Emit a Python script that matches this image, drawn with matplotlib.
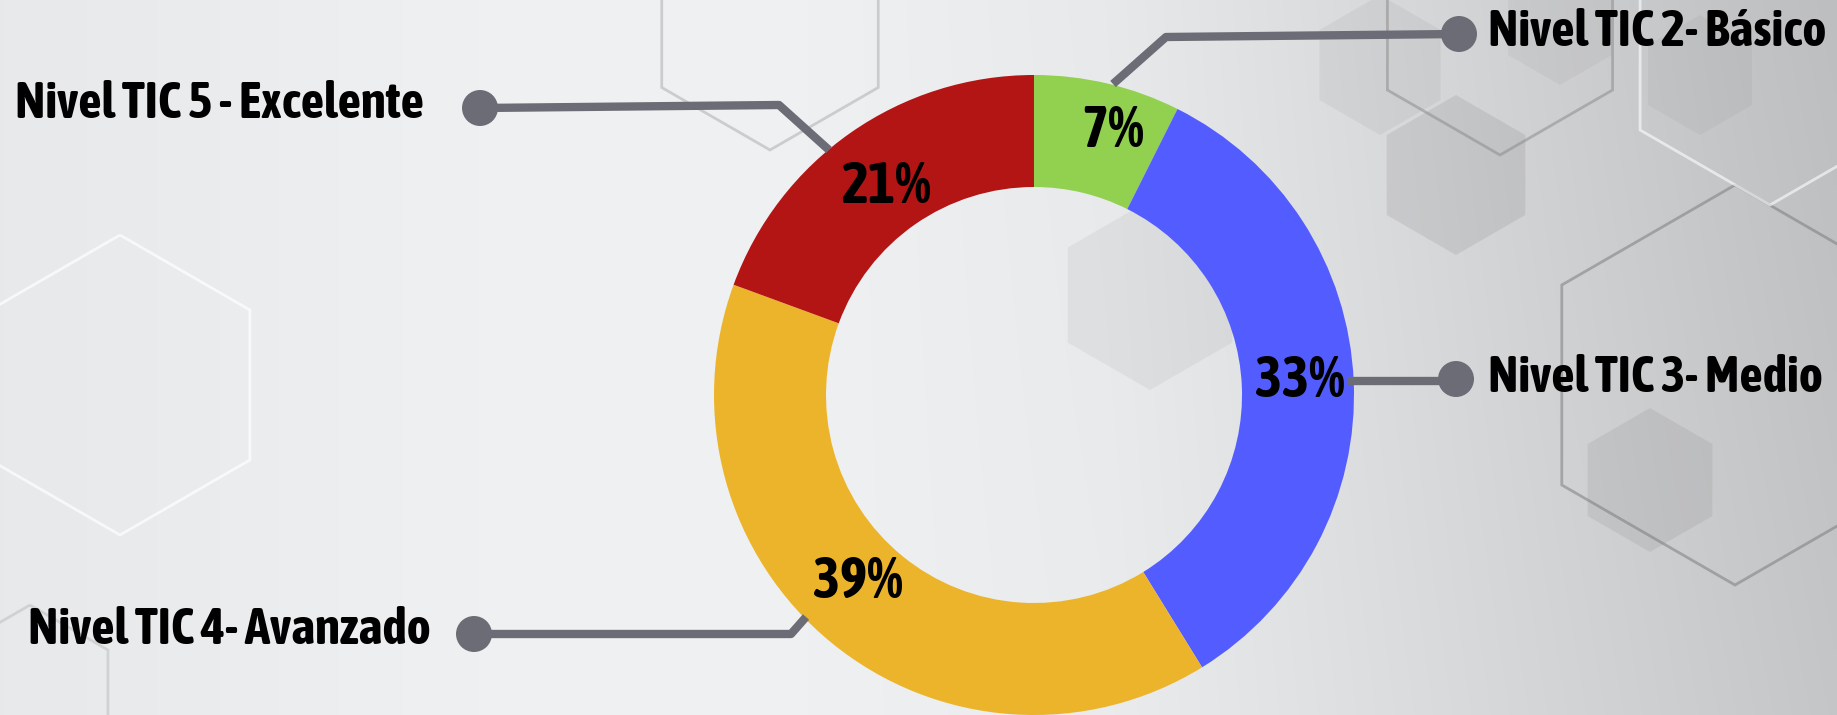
import matplotlib
matplotlib.use("Agg")
import matplotlib.pyplot as plt
import numpy as np
from matplotlib.patches import RegularPolygon, Circle

# data
niveles = ["Nivel TIC 2- Básico", "Nivel TIC 3- Medio",
           "Nivel TIC 4- Avanzado", "Nivel TIC 5 - Excelente"]
etiquetas = ["7%", "33%", "39%", "21%"]
# wedge shares as drawn in the picture (the printed labels are rounded differently)
sectores = [7.4, 33.8, 39.4, 19.4]
colores = ["#92d050", "#535dff", "#ecb42b", "#b31414"]

W, H = 1837, 715
GRIS = "#6c6c76"
FAMILIA = ["Asap Condensed", "Liberation Sans", "DejaVu Sans"]


def fondo(ax):
    # light grey gradient, darker on the right
    xs = np.linspace(0, 1, 400)
    ys = np.linspace(0, 1, 160)
    X, Y = np.meshgrid(xs, ys)
    v = 0.90 + 0.04 * np.exp(-((X - 0.35) ** 2) / 0.08) - 0.13 * np.clip((X - 0.6) / 0.4, 0, 1) ** 1.2
    v = v - 0.03 * np.clip((X - 0.45) / 0.5, 0, 1) * Y
    img = np.dstack([v, v + 0.005, v + 0.012])
    ax.imshow(np.clip(img, 0, 1), extent=(0, W, 0, H), origin="lower",
              aspect="auto", zorder=0, interpolation="bilinear")

    # decorative hexagons
    rellenos = [(1456, 540, 80, 0.12), (1650, 235, 72, 0.10), (1150, 420, 95, 0.07),
                (1380, 650, 70, 0.07), (1700, 640, 60, 0.06), (1560, 690, 60, 0.06)]
    for x, y, r, a in rellenos:
        ax.add_patch(RegularPolygon((x, y), 6, radius=r, orientation=0,
                                    facecolor="#555555", alpha=a, edgecolor="none", zorder=1))
    contornos = [(1735, 330, 200, "#777777", 0.5), (1500, 690, 130, "#888888", 0.5),
                 (120, 330, 150, "#ffffff", 0.7), (770, 690, 125, "#aaaaaa", 0.5),
                 (1770, 660, 150, "#ffffff", 0.6), (30, 20, 90, "#bbbbbb", 0.5)]
    for x, y, r, c, a in contornos:
        ax.add_patch(RegularPolygon((x, y), 6, radius=r, orientation=0,
                                    facecolor="none", edgecolor=c, alpha=a, lw=2, zorder=1))


def main():
    fig = plt.figure(figsize=(W / 100, H / 100), dpi=100)
    ax = fig.add_axes([0, 0, 1, 1])
    fondo(ax)

    cx, cy, R = 1034, H - 395, 320
    wedges, _ = ax.pie(
        sectores, colors=colores, startangle=90, counterclock=False,
        center=(cx, cy), radius=R, wedgeprops=dict(width=112, linewidth=0))
    for w in wedges:
        w.set_zorder(3)

    # percent labels, placed where the picture has them (pixel coords from top)
    pos_pct = [(1113, 131), (1300, 381), (858, 582), (886, 187)]
    for txt, (x, y) in zip(etiquetas, pos_pct):
        ax.text(x, H - y, txt, ha="center", va="center", fontsize=41.5,
                fontweight="bold", color="black", family=FAMILIA, zorder=5)

    # leader lines (pixel coords, y from top)
    lineas = [
        [(1113, 84), (1166, 37), (1459, 34)],
        [(1347, 381), (1456, 381)],
        [(806, 617), (791, 634), (474, 634)],
        [(829, 150), (779, 105), (480, 108)],
    ]
    puntos = [(1459, 34), (1456, 379), (474, 634), (480, 108)]
    for pts in lineas:
        xs = [p[0] for p in pts]
        ys = [H - p[1] for p in pts]
        ax.plot(xs, ys, color=GRIS, lw=6, solid_capstyle="butt", zorder=4)
    for x, y in puntos:
        ax.add_patch(Circle((x, H - y), 18, facecolor=GRIS, edgecolor="none", zorder=4))

    fuente = dict(fontsize=37, fontweight="bold", color="black",
                  family=FAMILIA, zorder=6, va="center")
    ax.text(1488, H - 32, niveles[0], ha="left", **fuente)
    ax.text(1488, H - 378, niveles[1], ha="left", **fuente)
    ax.text(431, H - 630, niveles[2], ha="right", **fuente)
    ax.text(424, H - 104, niveles[3], ha="right", **fuente)

    ax.set_xlim(0, W)
    ax.set_ylim(0, H)
    ax.set_aspect("auto")
    ax.axis("off")
    fig.savefig("out.png", dpi=100)


if __name__ == "__main__":
    main()
